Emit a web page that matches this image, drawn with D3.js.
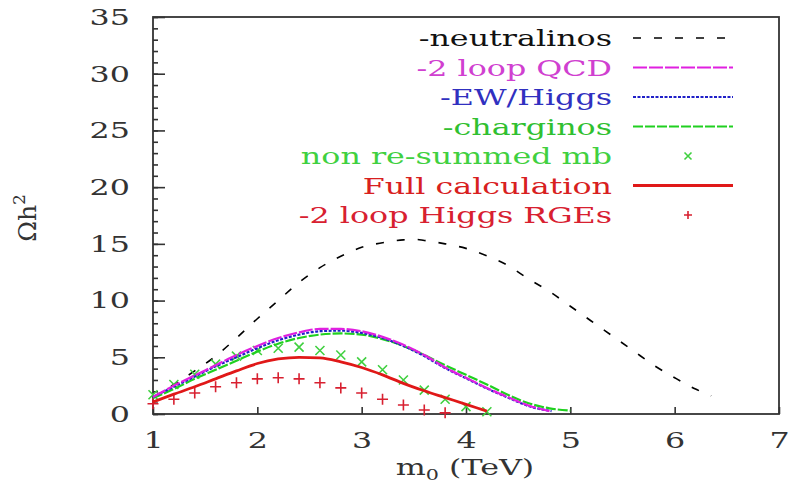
<!DOCTYPE html>
<html>
<head>
<meta charset="utf-8">
<script src="https://cdn.jsdelivr.net/npm/d3@7"></script>
<style>
  body { margin: 0; background: #fff; }
  text { font-family: "DejaVu Serif", serif; }
</style>
</head>
<body>
<svg id="chart" width="797" height="486"></svg>
<script>
// Relic density Omega h^2 versus m0 (TeV)
const xTickValues = [1, 2, 3, 4, 5, 6, 7];
const yTickValues = [0, 5, 10, 15, 20, 25, 30, 35];

const m0Neutralinos = [1.0, 1.2, 1.4, 1.6, 1.8, 2.0, 2.2, 2.4, 2.6, 2.8, 3.0, 3.2, 3.4, 3.5, 3.6, 3.8, 4.0, 4.2, 4.4, 4.6, 4.8, 5.0, 5.2, 5.4, 5.6, 5.8, 6.0, 6.2, 6.35];
const neutralinos   = [1.5, 2.6, 3.8, 5.1, 6.7, 8.4, 10.0, 11.6, 12.9, 13.9, 14.7, 15.1, 15.35, 15.4, 15.3, 15.0, 14.6, 13.95, 13.1, 11.9, 10.8, 9.5, 8.2, 6.9, 5.6, 4.3, 3.2, 2.2, 1.6];

const m0Qcd = [1.0, 1.2, 1.4, 1.6, 1.8, 2.0, 2.2, 2.4, 2.6, 2.8, 3.0, 3.2, 3.4, 3.6, 3.8, 4.0, 4.2, 4.4, 4.6, 4.8];
const twoLoopQcd = [1.5, 2.5, 3.4, 4.3, 5.2, 6.0, 6.7, 7.2, 7.5, 7.5, 7.3, 6.8, 6.1, 5.2, 4.1, 3.2, 2.3, 1.5, 0.75, 0.25];

const m0EwHiggs = [1.0, 1.2, 1.4, 1.6, 1.8, 2.0, 2.2, 2.4, 2.6, 2.8, 3.0, 3.2, 3.4, 3.6, 3.8, 4.0, 4.2, 4.4, 4.6, 4.82];
const ewHiggs   = [1.5, 2.4, 3.3, 4.2, 5.0, 5.8, 6.5, 7.0, 7.3, 7.35, 7.15, 6.7, 6.0, 5.1, 4.05, 3.15, 2.25, 1.45, 0.7, 0.25];

const m0Charginos = [1.0, 1.2, 1.4, 1.6, 1.8, 2.0, 2.2, 2.4, 2.6, 2.8, 3.0, 3.2, 3.4, 3.6, 3.8, 4.0, 4.2, 4.4, 4.6, 4.8, 5.0];
const charginos   = [1.4, 2.2, 3.1, 3.9, 4.7, 5.5, 6.2, 6.7, 7.0, 7.1, 7.0, 6.6, 6.0, 5.2, 4.3, 3.45, 2.6, 1.7, 0.95, 0.5, 0.3];

const m0NonResummed = [1.0, 1.2, 1.4, 1.6, 1.8, 2.0, 2.2, 2.4, 2.6, 2.8, 3.0, 3.2, 3.4, 3.6, 3.8, 4.0, 4.2];
const nonResummedMb = [1.7, 2.6, 3.5, 4.4, 5.1, 5.6, 5.8, 5.9, 5.6, 5.2, 4.6, 3.9, 3.0, 2.1, 1.3, 0.65, 0.2];

const m0Full = [1.0, 1.2, 1.4, 1.6, 1.8, 2.0, 2.2, 2.4, 2.6, 2.8, 3.0, 3.2, 3.4, 3.6, 3.8, 4.0, 4.2];
const fullCalculation = [1.05, 1.75, 2.4, 3.1, 3.8, 4.45, 4.85, 5.0, 4.95, 4.6, 4.1, 3.45, 2.7, 2.05, 1.45, 0.85, 0.25];

const m0HiggsRge = [1.0, 1.2, 1.4, 1.6, 1.8, 2.0, 2.2, 2.4, 2.6, 2.8, 3.0, 3.2, 3.4, 3.6, 3.8];
const twoLoopHiggsRge = [0.9, 1.3, 1.85, 2.4, 2.75, 3.1, 3.2, 3.1, 2.75, 2.3, 1.85, 1.3, 0.8, 0.35, 0.1];

const legendLabels = ["-neutralinos", "-2 loop QCD", "-EW/Higgs", "-charginos", "non re-summed mb", "Full calculation", "-2 loop Higgs RGEs"];

const svg = d3.select("#chart");
const SX = 1.38; // horizontal stretch of lettering
const FS = 23;

const x = d3.scaleLinear().domain([1, 7]).range([153, 779]);
const y = d3.scaleLinear().domain([0, 35]).range([414, 17]);

const zip = (xs, ys) => xs.map((v, i) => [v, ys[i]]);

const series = [
  { label: legendLabels[0], color: "#000000", dash: "8,13", width: 1.6, kind: "line", data: zip(m0Neutralinos, neutralinos), text: "#111111" },
  { label: legendLabels[1], color: "#e020e0", dash: "14,2", width: 2.2, kind: "line", data: zip(m0Qcd, twoLoopQcd), text: "#d040d0" },
  { label: legendLabels[2], color: "#2020c8", dash: "3,1.5", width: 2.2, kind: "line", data: zip(m0EwHiggs, ewHiggs), text: "#3030c0" },
  { label: legendLabels[3], color: "#20d020", dash: "10,2", width: 2.2, kind: "line", data: zip(m0Charginos, charginos), text: "#30c030" },
  { label: legendLabels[4], color: "#40d040", kind: "cross", data: zip(m0NonResummed, nonResummedMb), text: "#40d040" },
  { label: legendLabels[5], color: "#e01818", dash: null, width: 2.8, kind: "line", data: zip(m0Full, fullCalculation), text: "#d82020" },
  { label: legendLabels[6], color: "#d82030", kind: "plus", data: zip(m0HiggsRge, twoLoopHiggsRge), text: "#d82030" }
];

// frame
svg.append("rect")
  .attr("x", x(1)).attr("y", y(35))
  .attr("width", x(7) - x(1)).attr("height", y(0) - y(35))
  .attr("fill", "none").attr("stroke", "#333").attr("stroke-width", 1.8);

// axes with inward ticks
const yMinor = svg.append("g").attr("transform", `translate(${x(1)},0)`)
  .call(d3.axisLeft(y).ticks(35).tickSize(-5).tickFormat(""));
const yMajor = svg.append("g").attr("transform", `translate(${x(1)},0)`)
  .call(d3.axisLeft(y).tickValues(yTickValues).tickSize(-12).tickPadding(23).tickFormat(d3.format("d")));
const xMajor = svg.append("g").attr("transform", `translate(0,${y(0)})`)
  .call(d3.axisBottom(x).tickValues(xTickValues).tickSize(-7).tickPadding(14).tickFormat(d3.format("d")));

[yMinor, yMajor, xMajor].forEach(g => {
  g.select(".domain").remove();
  g.selectAll(".tick line").attr("stroke", "#333").attr("stroke-width", 1.6);
});

yMajor.selectAll(".tick text")
  .attr("x", 0)
  .attr("transform", `translate(-23,0) scale(${SX},1)`)
  .attr("fill", "#333").attr("font-size", FS);

xMajor.selectAll(".tick text")
  .attr("transform", `translate(0,13) scale(${SX},1)`)
  .attr("y", 0).attr("dy", "0.9em")
  .attr("fill", "#333").attr("font-size", FS);

// axis titles
const yTitle = svg.append("text")
  .attr("transform", "translate(36,218) rotate(-90)")
  .attr("text-anchor", "middle").attr("fill", "#333").attr("font-size", 25);
yTitle.append("tspan").text("Ωh");
yTitle.append("tspan").attr("dy", -11).attr("font-size", 17).text("2");

const xTitle = svg.append("text")
  .attr("transform", `translate(465,475) scale(${SX},1)`)
  .attr("text-anchor", "middle").attr("fill", "#333").attr("font-size", FS);
xTitle.append("tspan").text("m");
xTitle.append("tspan").attr("dy", 5).attr("font-size", 15).text("0");
xTitle.append("tspan").attr("dy", -5).text(" (TeV)");

// curves
const line = d3.line().x(d => x(d[0])).y(d => y(d[1])).curve(d3.curveMonotoneX);

const crossPath = s => `M${-s},${-s}L${s},${s}M${-s},${s}L${s},${-s}`;
const plusPath = s => `M${-s},0L${s},0M0,${-s}L0,${s}`;

function drawMarkers(sel, d, kind, color) {
  sel.selectAll(null).data(d).join("path")
    .attr("transform", p => `translate(${x(p[0])},${y(p[1])})`)
    .attr("d", kind === "cross" ? crossPath(4.5) : plusPath(5.5))
    .attr("stroke", color).attr("stroke-width", 1.6).attr("fill", "none");
}

const order = [0, 4, 6, 3, 2, 1, 5];
order.forEach(i => {
  const s = series[i];
  const g = svg.append("g");
  if (s.kind === "line") {
    g.append("path").datum(s.data)
      .attr("d", line)
      .attr("fill", "none")
      .attr("stroke", s.color)
      .attr("stroke-width", s.width)
      .attr("stroke-dasharray", s.dash);
  } else {
    drawMarkers(g, s.data, s.kind, s.color);
  }
});

// legend
const legend = svg.append("g");
series.forEach((s, i) => {
  const cy = 38 + i * 29.5;
  legend.append("text")
    .attr("transform", `translate(612,${cy + 8}) scale(${SX},1)`)
    .attr("text-anchor", "end")
    .attr("fill", s.text)
    .attr("font-size", FS)
    .text(s.label);
  if (s.kind === "line") {
    legend.append("line")
      .attr("x1", 633).attr("x2", 733).attr("y1", cy).attr("y2", cy)
      .attr("stroke", s.color).attr("stroke-width", s.width)
      .attr("stroke-dasharray", s.dash);
  } else {
    legend.append("path")
      .attr("transform", `translate(688,${cy})`)
      .attr("d", s.kind === "cross" ? crossPath(3.5) : plusPath(4))
      .attr("stroke", s.color).attr("stroke-width", 1.6).attr("fill", "none");
  }
});
</script>
</body>
</html>
